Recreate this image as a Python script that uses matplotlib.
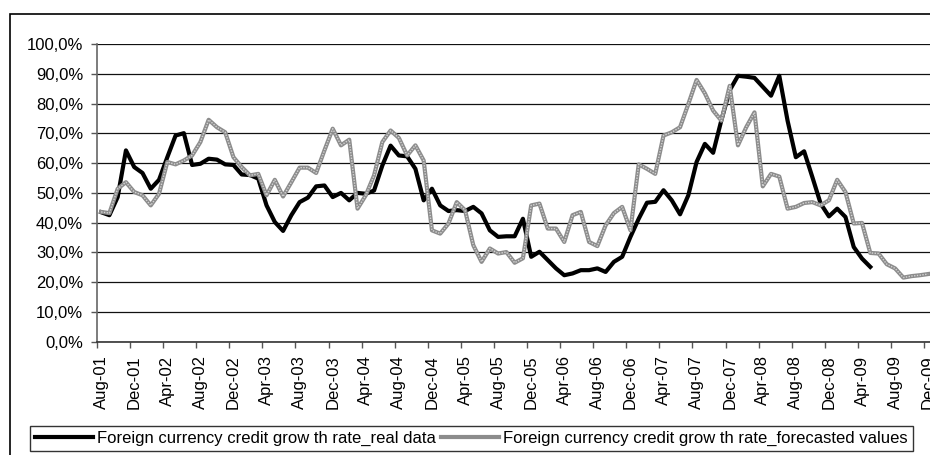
import numpy as np
import pandas as pd
import matplotlib
matplotlib.use('Agg')
import matplotlib.pyplot as plt
from matplotlib.patches import Rectangle
from matplotlib.transforms import Bbox
from matplotlib.ticker import FuncFormatter, FixedLocator

# monthly series, Aug-01 .. Dec-09 (values in %)
months = pd.date_range('2001-08-01', periods=101, freq='MS')
month_labels = [d.strftime('%b-%y') for d in months]

real_data = [43.5, 42.5, 48.6, 64.3, 58.7, 56.7, 51.4, 54.4, 62.0, 69.3,
             70.1, 59.4, 59.8, 61.5, 61.2, 59.6, 59.4, 56.2, 56.0, 54.8,
             45.8, 40.2, 37.2, 42.5, 46.9, 48.4, 52.2, 52.5, 48.6, 50.0,
             47.5, 50.0, 49.7, 50.8, 59.2, 65.9, 62.6, 62.3, 58.1, 47.5,
             51.4, 45.8, 43.9, 44.2, 43.9, 45.3, 43.1, 37.4, 35.2, 35.4,
             35.4, 41.3, 28.5, 30.2, 27.4, 24.6, 22.3, 22.9, 24.0, 24.0,
             24.6, 23.4, 26.8, 28.5, 35.2, 41.3, 46.7, 47.0, 50.9, 47.5,
             42.8, 49.2, 60.4, 66.5, 63.5, 74.5, 84.5, 89.4, 89.1, 88.7,
             85.7, 82.7, 89.4, 74.3, 62.0, 64.0, 55.3, 46.4, 42.1, 44.7,
             41.9, 31.8, 27.9, 25.1]

forecast = [43.6, 43.2, 51.4, 53.6, 50.3, 49.2, 45.8, 49.7, 60.4, 59.6,
            60.9, 62.6, 67.1, 74.6, 72.1, 70.4, 62.0, 58.7, 55.9, 56.4,
            49.2, 54.4, 48.8, 53.6, 58.5, 58.5, 56.7, 64.3, 71.6, 66.0,
            67.9, 44.7, 49.2, 55.9, 67.1, 71.0, 68.5, 62.6, 66.0, 60.9,
            37.4, 36.3, 39.7, 46.9, 44.2, 32.4, 26.8, 31.3, 29.6, 30.1,
            26.5, 28.0, 45.8, 46.4, 38.0, 38.0, 33.5, 42.5, 43.6, 33.5,
            32.1, 39.1, 43.2, 45.3, 37.4, 59.6, 58.1, 56.4, 69.3, 70.4,
            72.1, 79.9, 88.0, 83.5, 77.7, 74.3, 86.0, 66.0, 72.1, 77.1,
            52.2, 56.4, 55.5, 44.7, 45.3, 46.6, 46.9, 45.8, 47.5, 54.4,
            50.3, 39.7, 39.9, 29.8, 29.6, 26.0, 24.6, 21.5, 22.0, 22.3,
            22.7]

label_real = 'Foreign currency credit grow th rate_real data'
label_fc = 'Foreign currency credit grow th rate_forecasted values'
title = 'Figure 12. Foreign currency credit growth rate'

plt.rcParams['font.family'] = ['Liberation Sans', 'DejaVu Sans']

W, H = 930, 455
fig = plt.figure(figsize=(W / 100, H / 100), dpi=100)

# caption sits above the chart, cut by the top edge (only descenders show)
cap = fig.text(59 / W, 1 + 5.6 / H, title, family='Liberation Serif', fontweight='bold',
               fontsize=22, va='baseline', ha='left')
cap.set_clip_box(Bbox([[0, H - 16], [W, H - 3]]))
cap.set_clip_on(True)

# chart area border
fig.patches.append(Rectangle((10 / W, -0.1), 1.2, 1.1 - 14 / H, transform=fig.transFigure,
                             fill=False, edgecolor='black', linewidth=1.2))

ax = fig.add_axes([97 / W, 113.5 / H, 835.3 / W, 297.2 / H])
x_real = np.arange(len(real_data))
x_fc = np.arange(len(forecast))

ax.plot(x_real, real_data, color='black', linewidth=3.0, zorder=3, label=label_real)
ax.plot(x_fc, forecast, color='#8c8c8c', linewidth=3.0, zorder=4, label=label_fc)
ax.plot(x_fc, forecast, color='#d4d4d4', linewidth=1.0, linestyle=(0, (1, 1)), zorder=5)

ax.set_xlim(-0.5, 100.5)
ax.set_ylim(0, 100)

ax.set_yticks(np.arange(0, 101, 10))
ax.yaxis.set_major_formatter(FuncFormatter(lambda v, p: f'{v:.1f}%'.replace('.', ',')))
ax.grid(axis='y', color='#111111', linewidth=0.9)
ax.set_axisbelow(True)

ax.xaxis.set_major_locator(FixedLocator(list(range(0, 101, 4))))
ax.set_xticklabels(month_labels[::4], rotation=90)
ax.xaxis.set_minor_locator(FixedLocator([i - 0.5 for i in range(0, 101, 4)]))
ax.tick_params(axis='x', which='major', length=0, pad=10, labelsize=12)
ax.tick_params(axis='x', which='minor', length=4, width=1, color='#555555')
ax.tick_params(axis='y', length=4, width=1, color='#555555', pad=6, labelsize=12)

for s in ['top', 'right']:
    ax.spines[s].set_visible(False)
ax.spines['left'].set_color('#666666')
ax.spines['bottom'].set_color('#333333')
ax.spines['left'].set_linewidth(1.2)
ax.spines['bottom'].set_linewidth(1.2)

leg = ax.legend(loc='upper left', bbox_to_anchor=(29.5 / W, 1 - 426 / H),
                bbox_transform=fig.transFigure, ncol=2, fontsize=12.0, frameon=True,
                fancybox=False, edgecolor='black', handlelength=3.5, handletextpad=0.25,
                columnspacing=0.3, borderpad=0.3, borderaxespad=0)
leg.get_frame().set_linewidth(1.0)

fig.savefig('out.png', dpi=100)
